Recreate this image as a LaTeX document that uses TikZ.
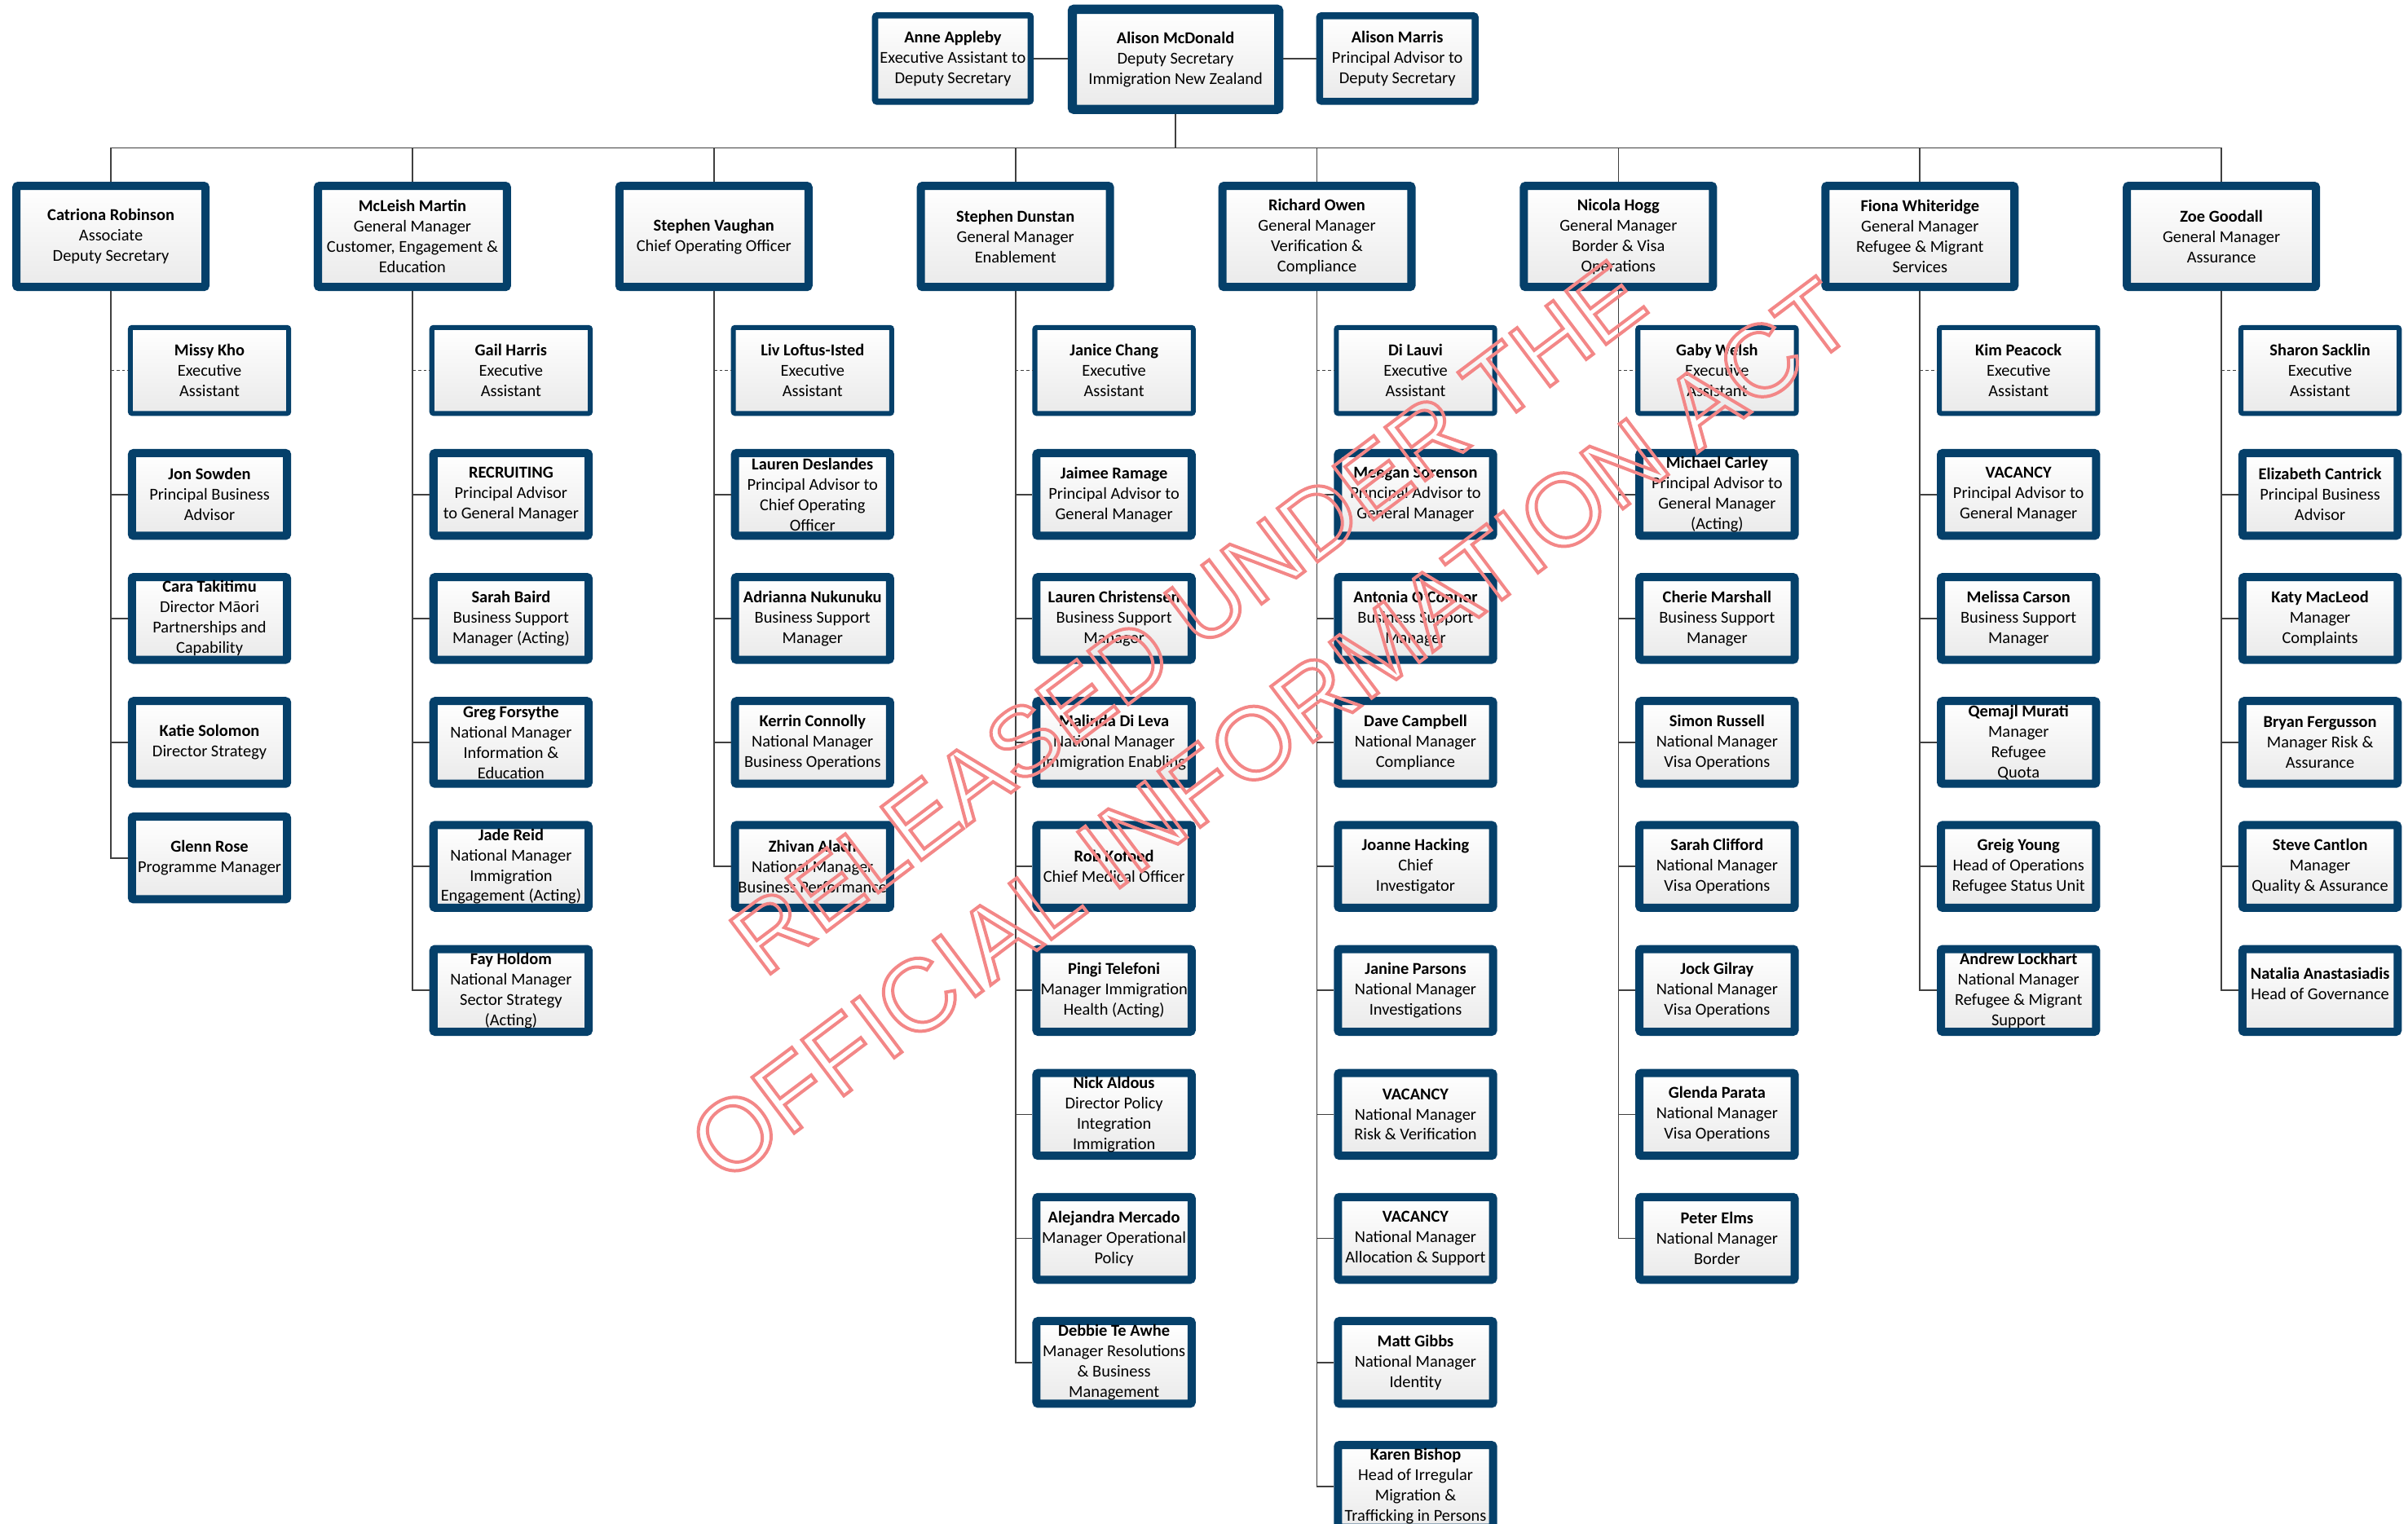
\documentclass[tikz,border=0pt]{standalone}
\usepackage{fontspec}
\setmainfont{Carlito}
\newfontfamily\wmfont{Liberation Sans}
\definecolor{boxblue}{RGB}{5,64,106}
\definecolor{boxgray}{RGB}{234,234,234}
\definecolor{connc}{RGB}{64,64,64}
\definecolor{wmred}{RGB}{243,135,135}
\newcommand\wmout[1]{\special{pdf:literal direct 1 Tr 2.1 w}#1\special{pdf:literal direct 0 Tr}}
\newcommand\kid[5]{\node[#2] (#1) at (#3,#4) {#5};}
\tikzset{
 basebox/.style={draw=boxblue, rounded corners=1.2pt, top color=white, bottom color=boxgray,
   align=center, inner sep=0pt, font=\fontsize{10.8}{13.2}\selectfont, text=black},
 topbox/.style={basebox, line width=6pt, minimum width=134pt, minimum height=65pt},
 sidebox/.style={basebox, line width=4.5pt, minimum width=101pt, minimum height=55.5pt},
 gmbox/.style={basebox, line width=5.3pt, minimum width=122.7pt, minimum height=65.7pt},
 eabox/.style={basebox, line width=3.2pt, minimum width=102.8pt, minimum height=55.8pt},
 cbox/.style={basebox, line width=5.3pt, minimum width=100.7pt, minimum height=53.7pt},
 conn/.style={draw=connc, line width=0.9pt},
 eaconn/.style={conn, dash pattern=on 2pt off 1.6pt},
 wm/.style={text=wmred, rotate=37, inner sep=0pt}
}
\begin{document}
\begin{tikzpicture}[x=1pt,y=-1pt]
\useasboundingbox (0,0) rectangle (1563,989);
\fill[white] (0,0) rectangle (1563,989);

% top row
\node[topbox] (mcd) at (763,38.5) {\textbf{Alison McDonald}\\Deputy Secretary\\Immigration New Zealand};
\node[sidebox, line width=4pt, minimum width=101pt, minimum height=56pt] (anne) at (618.5,38) {\textbf{Anne Appleby}\\Executive Assistant to\\Deputy Secretary};
\node[sidebox] (marris) at (907,38) {\textbf{Alison Marris}\\Principal Advisor to\\Deputy Secretary};
\draw[conn] (anne.east) -- (anne.east -| mcd.west);
\draw[conn] (marris.west -| mcd.east) -- (marris.west);
\coordinate (bus) at (763,96);
\draw[conn] (mcd.south) -- (bus);

% general managers
\node[gmbox] (ca) at (72,153.5) {\textbf{Catriona Robinson}\\Associate\\Deputy Secretary};
\node[gmbox] (cb) at (267.7,153.5) {\textbf{McLeish Martin}\\General Manager\\Customer, Engagement \&\\Education};
\node[gmbox] (cc) at (463.4,153.5) {\textbf{Stephen Vaughan}\\Chief Operating Officer};
\node[gmbox] (cd) at (659.1,153.5) {\textbf{Stephen Dunstan}\\General Manager\\Enablement};
\node[gmbox] (ce) at (854.8,153.5) {\textbf{Richard Owen}\\General Manager\\Verification \&\\Compliance};
\node[gmbox] (cf) at (1050.5,153.5) {\textbf{Nicola Hogg}\\General Manager\\Border \& Visa\\Operations};
\node[gmbox] (cg) at (1246.2,153.5) {\textbf{Fiona Whiteridge}\\General Manager\\Refugee \& Migrant\\Services};
\node[gmbox] (ch) at (1441.9,153.5) {\textbf{Zoe Goodall}\\General Manager\\Assurance};
\foreach \g in {ca,cb,cc,cd,ce,cf,cg,ch} \draw[conn] (\g.north) |- (bus);

% column 1
\kid{a1}{eabox}{136}{240.5}{\textbf{Missy Kho}\\Executive\\Assistant}
\kid{a2}{cbox}{136}{321}{\textbf{Jon Sowden}\\Principal Business\\Advisor}
\kid{a3}{cbox}{136}{401.5}{\textbf{Cara Takitimu}\\Director Māori\\Partnerships and\\Capability}
\kid{a4}{cbox}{136}{482}{\textbf{Katie Solomon}\\Director Strategy}
\kid{a5}{cbox}{136}{557}{\textbf{Glenn Rose}\\Programme Manager}
\draw[eaconn] (a1.west -| ca.south) -- (a1.west);
\foreach \n in {a2,a3,a4} \draw[conn] (\n.west -| ca.south) -- (\n.west);
\draw[conn] (ca.south) |- (a5.west);

% column 2
\kid{b1}{eabox}{331.7}{240.5}{\textbf{Gail Harris}\\Executive\\Assistant}
\kid{b2}{cbox}{331.7}{321}{\textbf{RECRUITING}\\Principal Advisor\\to General Manager}
\kid{b3}{cbox}{331.7}{401.5}{\textbf{Sarah Baird}\\Business Support\\Manager (Acting)}
\kid{b4}{cbox}{331.7}{482}{\textbf{Greg Forsythe}\\National Manager\\Information \&\\Education}
\kid{b5}{cbox}{331.7}{562.5}{\textbf{Jade Reid}\\National Manager\\Immigration\\Engagement (Acting)}
\kid{b6}{cbox}{331.7}{643}{\textbf{Fay Holdom}\\National Manager\\Sector Strategy\\(Acting)}
\draw[eaconn] (b1.west -| cb.south) -- (b1.west);
\foreach \n in {b2,b3,b4,b5} \draw[conn] (\n.west -| cb.south) -- (\n.west);
\draw[conn] (cb.south) |- (b6.west);

% column 3
\kid{c1}{eabox}{527.4}{240.5}{\textbf{Liv Loftus-Isted}\\Executive\\Assistant}
\kid{c2}{cbox}{527.4}{321}{\textbf{Lauren Deslandes}\\Principal Advisor to\\Chief Operating\\Officer}
\kid{c3}{cbox}{527.4}{401.5}{\textbf{Adrianna Nukunuku}\\Business Support\\Manager}
\kid{c4}{cbox}{527.4}{482}{\textbf{Kerrin Connolly}\\National Manager\\Business Operations}
\kid{c5}{cbox}{527.4}{562.5}{\textbf{Zhivan Alach}\\National Manager\\Business Performance}
\draw[eaconn] (c1.west -| cc.south) -- (c1.west);
\foreach \n in {c2,c3,c4} \draw[conn] (\n.west -| cc.south) -- (\n.west);
\draw[conn] (cc.south) |- (c5.west);

% column 4
\kid{d1}{eabox}{723.1}{240.5}{\textbf{Janice Chang}\\Executive\\Assistant}
\kid{d2}{cbox}{723.1}{321}{\textbf{Jaimee Ramage}\\Principal Advisor to\\General Manager}
\kid{d3}{cbox}{723.1}{401.5}{\textbf{Lauren Christensen}\\Business Support\\Manager}
\kid{d4}{cbox}{723.1}{482}{\textbf{Malinda Di Leva}\\National Manager\\Immigration Enabling}
\kid{d5}{cbox}{723.1}{562.5}{\textbf{Rob Kofoed}\\Chief Medical Officer}
\kid{d6}{cbox}{723.1}{643}{\textbf{Pingi Telefoni}\\Manager Immigration\\Health (Acting)}
\kid{d7}{cbox}{723.1}{723.5}{\textbf{Nick Aldous}\\Director Policy\\Integration\\Immigration}
\kid{d8}{cbox}{723.1}{804}{\textbf{Alejandra Mercado}\\Manager Operational\\Policy}
\kid{d9}{cbox}{723.1}{884.5}{\textbf{Debbie Te Awhe}\\Manager Resolutions\\\& Business\\Management}
\draw[eaconn] (d1.west -| cd.south) -- (d1.west);
\foreach \n in {d2,d3,d4,d5,d6,d7,d8} \draw[conn] (\n.west -| cd.south) -- (\n.west);
\draw[conn] (cd.south) |- (d9.west);

% column 5
\kid{e1}{eabox}{918.8}{240.5}{\textbf{Di Lauvi}\\Executive\\Assistant}
\kid{e2}{cbox}{918.8}{321}{\textbf{Meegan Sorenson}\\Principal Advisor to\\General Manager}
\kid{e3}{cbox}{918.8}{401.5}{\textbf{Antonia O’Connor}\\Business Support\\Manager}
\kid{e4}{cbox}{918.8}{482}{\textbf{Dave Campbell}\\National Manager\\Compliance}
\kid{e5}{cbox}{918.8}{562.5}{\textbf{Joanne Hacking}\\Chief\\Investigator}
\kid{e6}{cbox}{918.8}{643}{\textbf{Janine Parsons}\\National Manager\\Investigations}
\kid{e7}{cbox}{918.8}{723.5}{\textbf{VACANCY}\\National Manager\\Risk \& Verification}
\kid{e8}{cbox}{918.8}{804}{\textbf{VACANCY}\\National Manager\\Allocation \& Support}
\kid{e9}{cbox}{918.8}{884.5}{\textbf{Matt Gibbs}\\National Manager\\Identity}
\kid{e10}{cbox}{918.8}{965}{\textbf{Karen Bishop}\\Head of Irregular\\Migration \&\\Trafficking in Persons}
\draw[eaconn] (e1.west -| ce.south) -- (e1.west);
\foreach \n in {e2,e3,e4,e5,e6,e7,e8,e9} \draw[conn] (\n.west -| ce.south) -- (\n.west);
\draw[conn] (ce.south) |- (e10.west);

% column 6
\kid{f1}{eabox}{1114.5}{240.5}{\textbf{Gaby Welsh}\\Executive\\Assistant}
\kid{f2}{cbox}{1114.5}{321}{\textbf{Michael Carley}\\Principal Advisor to\\General Manager\\(Acting)}
\kid{f3}{cbox}{1114.5}{401.5}{\textbf{Cherie Marshall}\\Business Support\\Manager}
\kid{f4}{cbox}{1114.5}{482}{\textbf{Simon Russell}\\National Manager\\Visa Operations}
\kid{f5}{cbox}{1114.5}{562.5}{\textbf{Sarah Clifford}\\National Manager\\Visa Operations}
\kid{f6}{cbox}{1114.5}{643}{\textbf{Jock Gilray}\\National Manager\\Visa Operations}
\kid{f7}{cbox}{1114.5}{723.5}{\textbf{Glenda Parata}\\National Manager\\Visa Operations}
\kid{f8}{cbox}{1114.5}{804}{\textbf{Peter Elms}\\National Manager\\Border}
\draw[eaconn] (f1.west -| cf.south) -- (f1.west);
\foreach \n in {f2,f3,f4,f5,f6,f7} \draw[conn] (\n.west -| cf.south) -- (\n.west);
\draw[conn] (cf.south) |- (f8.west);

% column 7
\kid{g1}{eabox}{1310.2}{240.5}{\textbf{Kim Peacock}\\Executive\\Assistant}
\kid{g2}{cbox}{1310.2}{321}{\textbf{VACANCY}\\Principal Advisor to\\General Manager}
\kid{g3}{cbox}{1310.2}{401.5}{\textbf{Melissa Carson}\\Business Support\\Manager}
\kid{g4}{cbox}{1310.2}{482}{\textbf{Qemajl Murati}\\Manager\\Refugee\\Quota}
\kid{g5}{cbox}{1310.2}{562.5}{\textbf{Greig Young}\\Head of Operations\\Refugee Status Unit}
\kid{g6}{cbox}{1310.2}{643}{\textbf{Andrew Lockhart}\\National Manager\\Refugee \& Migrant\\Support}
\draw[eaconn] (g1.west -| cg.south) -- (g1.west);
\foreach \n in {g2,g3,g4,g5} \draw[conn] (\n.west -| cg.south) -- (\n.west);
\draw[conn] (cg.south) |- (g6.west);

% column 8
\kid{h1}{eabox}{1505.9}{240.5}{\textbf{Sharon Sacklin}\\Executive\\Assistant}
\kid{h2}{cbox}{1505.9}{321}{\textbf{Elizabeth Cantrick}\\Principal Business\\Advisor}
\kid{h3}{cbox}{1505.9}{401.5}{\textbf{Katy MacLeod}\\Manager\\Complaints}
\kid{h4}{cbox}{1505.9}{482}{\textbf{Bryan Fergusson}\\Manager Risk \&\\Assurance}
\kid{h5}{cbox}{1505.9}{562.5}{\textbf{Steve Cantlon}\\Manager\\Quality \& Assurance}
\kid{h6}{cbox}{1505.9}{643}{\textbf{Natalia Anastasiadis}\\Head of Governance\\[-4pt]\mbox{}}
\draw[eaconn] (h1.west -| ch.south) -- (h1.west);
\foreach \n in {h2,h3,h4,h5} \draw[conn] (\n.west -| ch.south) -- (\n.west);
\draw[conn] (ch.south) |- (h6.west);

% watermark
\node[wm, font=\wmfont\fontsize{63}{63}\selectfont] (wm1) at (771,401) {\wmout{RELEASED UNDER THE}};
\node[wm, font=\wmfont\fontsize{66}{66}\selectfont] (wm2) at (825,474) {\wmout{OFFICIAL INFORMATION ACT}};
\end{tikzpicture}
\end{document}
